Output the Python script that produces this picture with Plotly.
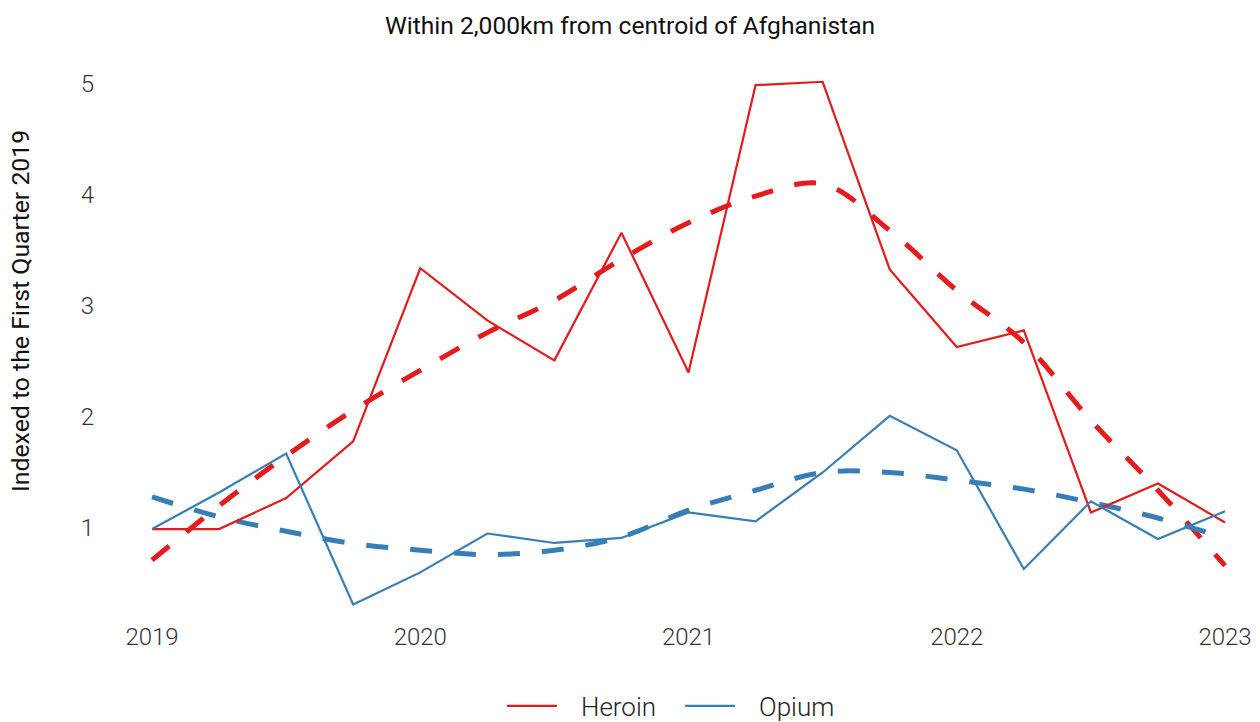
import plotly.graph_objects as go

quarters = [2019.0, 2019.25, 2019.5, 2019.75, 2020.0, 2020.25, 2020.5, 2020.75,
            2021.0, 2021.25, 2021.5, 2021.75, 2022.0, 2022.25, 2022.5, 2022.75, 2023.0]

heroin = [0.99, 0.99, 1.27, 1.78, 3.34, 2.87, 2.51, 3.66,
          2.40, 4.99, 5.02, 3.33, 2.63, 2.78, 1.14, 1.40, 1.05]
opium = [0.99, 1.32, 1.67, 0.31, 0.60, 0.95, 0.865, 0.91,
         1.14, 1.06, 1.50, 2.01, 1.70, 0.63, 1.24, 0.90, 1.15]

heroin_trend = [0.71, 1.20, 1.65, 2.06, 2.42, 2.76, 3.05, 3.42,
                3.75, 3.99, 4.10, 3.68, 3.14, 2.67, 1.97, 1.34, 0.66]
opium_trend = [1.28, 1.10, 0.97, 0.86, 0.80, 0.76, 0.80, 0.92,
               1.16, 1.34, 1.50, 1.50, 1.43, 1.35, 1.23, 1.09, 0.91]

x_ticks = [2019, 2020, 2021, 2022, 2023]
x_labels = ["2019", "2020", "2021", "2022", "2023"]
y_ticks = [1, 2, 3, 4, 5]
series_names = ["Heroin", "Opium"]

RED = "#E41A1C"
BLUE = "#377EB8"
FONT = "Roboto"
NB = "\u00a0" * 3

fig = go.Figure()
fig.add_trace(go.Scatter(x=quarters, y=heroin_trend, mode="lines", name=series_names[0],
                         line=dict(color=RED, width=5, dash="22px,22px", shape="spline", smoothing=1),
                         legendgroup="h", showlegend=False))
fig.add_trace(go.Scatter(x=quarters, y=opium_trend, mode="lines", name=series_names[1],
                         line=dict(color=BLUE, width=5, dash="22px,22px", shape="spline", smoothing=1),
                         legendgroup="o", showlegend=False))
fig.add_trace(go.Scatter(x=quarters, y=heroin, mode="lines", name=NB + series_names[0] + NB,
                         line=dict(color=RED, width=2.2), legendgroup="h"))
fig.add_trace(go.Scatter(x=quarters, y=opium, mode="lines", name=NB + series_names[1],
                         line=dict(color=BLUE, width=2.2), legendgroup="o"))

fig.add_annotation(text="Indexed to the First Quarter 2019", textangle=-90,
                   xref="paper", yref="paper", x=(20 - 95) / 1160, y=(620 - 311) / 550,
                   xanchor="center", yanchor="middle", showarrow=False,
                   font=dict(size=24.8, family=FONT, color="#111111"))

fig.update_layout(
    width=1260, height=722,
    paper_bgcolor="white", plot_bgcolor="white",
    margin=dict(l=95, r=5, t=70, b=102),
    font=dict(family=FONT, color="#222222"),
    title=dict(text="Within 2,000km from centroid of Afghanistan",
               x=0.5, xanchor="center", y=1 - 25 / 722, yanchor="middle",
               yref="container", font=dict(size=24.6, family=FONT, color="#111111")),
    xaxis=dict(range=[2018.7875, 2023.1118], tickvals=x_ticks, ticktext=x_labels,
               showgrid=False, zeroline=False, showline=False, ticks="",
               tickfont=dict(size=24, family=FONT, color="#333333", weight=300)),
    yaxis=dict(range=[0.171, 5.126], tickvals=y_ticks, showgrid=False, zeroline=False,
               showline=False, ticks="",
               tickfont=dict(size=24, family=FONT, color="#333333", weight=300)),
    legend=dict(orientation="h", x=502 / 1260, xanchor="left", xref="container",
                y=1 - 706 / 722, yanchor="middle", yref="container",
                font=dict(size=26, family=FONT, color="#222222", weight=300),
                itemwidth=50),
)

fig.write_html("out.html", config={"displayModeBar": False},
               post_script="document.body.style.margin='0';document.body.style.padding='0';")
